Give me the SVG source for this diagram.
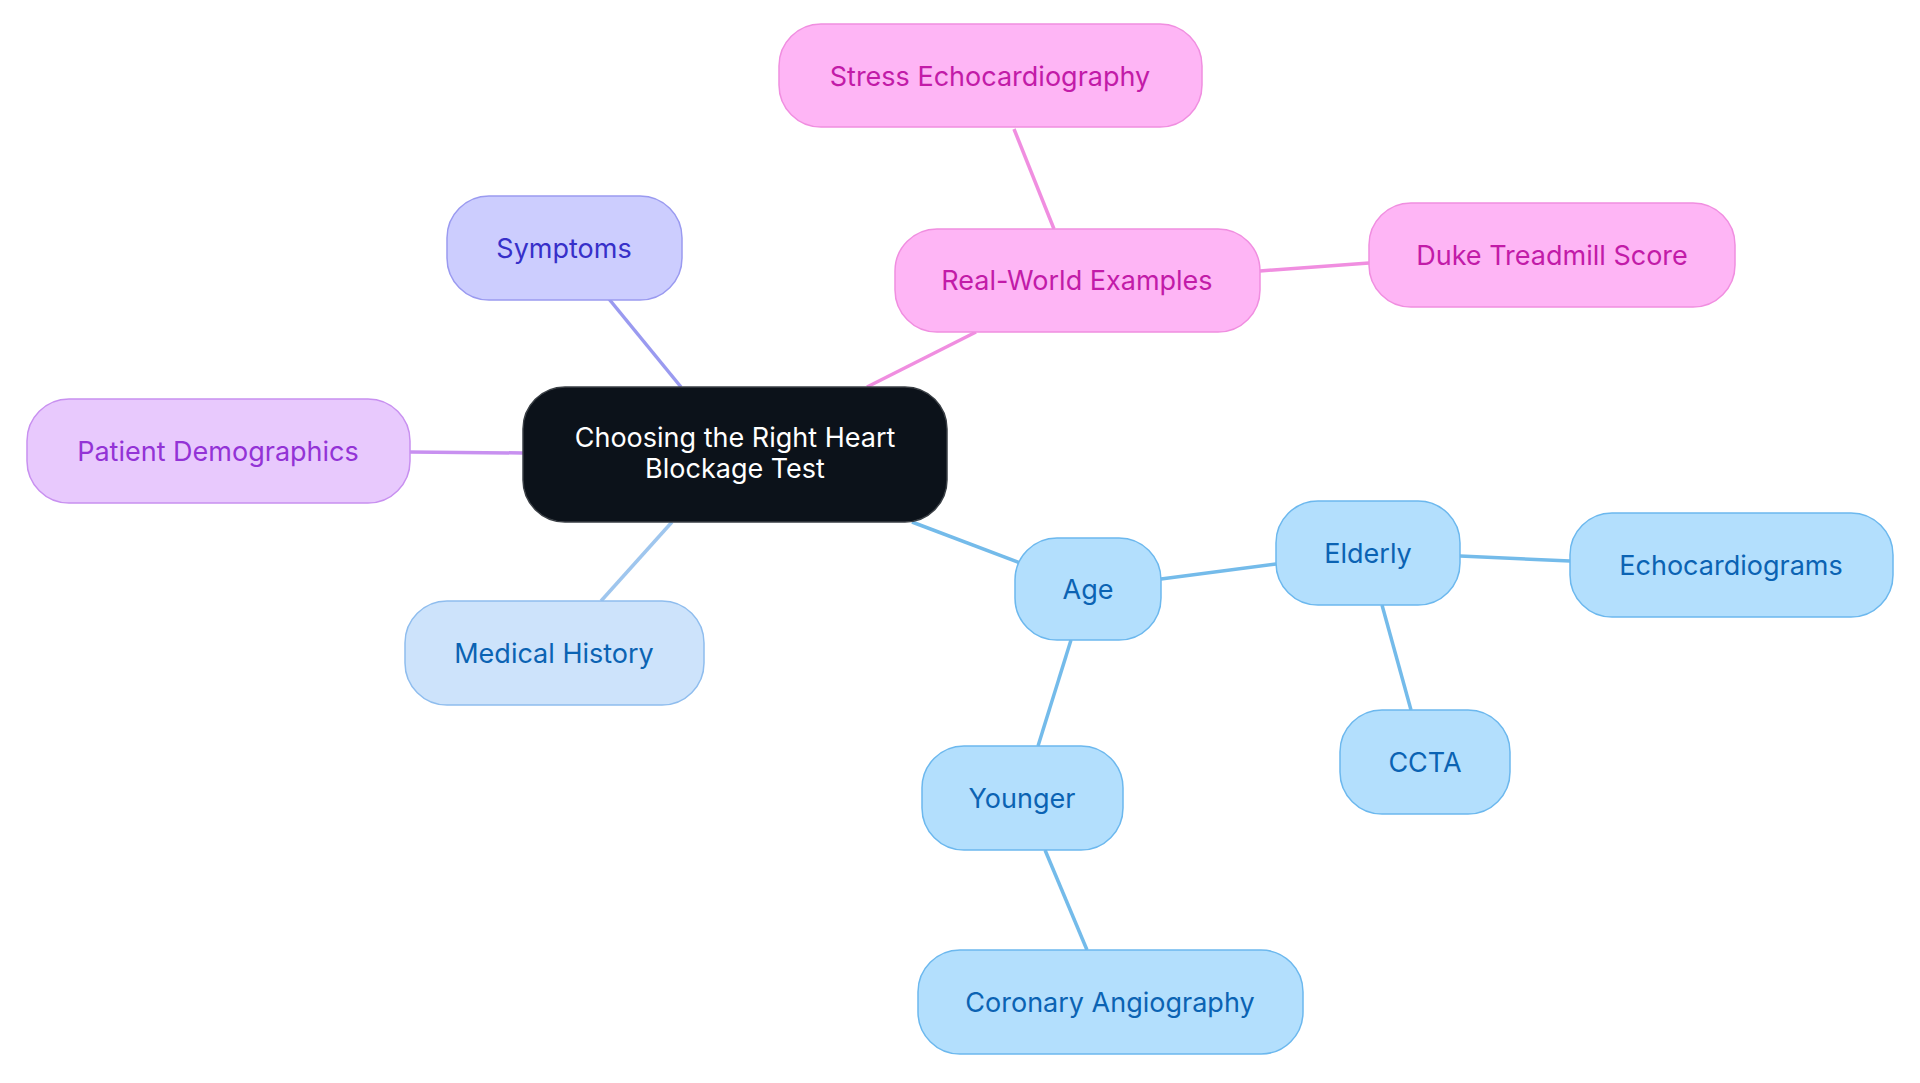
<svg xmlns="http://www.w3.org/2000/svg" width="1920" height="1083" viewBox="0 0 1920 1083">
<style>
text{font-family:Inter,"Noto Sans",sans-serif;font-size:27px;text-anchor:middle;dominant-baseline:central}
.b rect{fill:#b3dffd;stroke:#6cb8ee;stroke-width:1.5}.b text{fill:#0b63b3}
.m rect{fill:#cde3fb;stroke:#8fbdee;stroke-width:1.5}.m text{fill:#0b63b3}
.s rect{fill:#cccdfe;stroke:#9a9af0;stroke-width:1.5}.s text{fill:#3730c9}
.p rect{fill:#e8c9fd;stroke:#c890f0;stroke-width:1.5}.p text{fill:#9333d6}
.k rect{fill:#feb5f5;stroke:#f08ee0;stroke-width:1.5}.k text{fill:#c21ba8}
.c rect{fill:#0c121a;stroke:#3a3f45;stroke-width:1.5}.c text{fill:#fff}
#edges line{stroke-width:3.5;fill:none}
</style>
<rect width="1920" height="1083" fill="#fff"/>
<g id="edges">
<line x1="609" y1="299" x2="681" y2="387" stroke="#9a9af0"/>
<line x1="410" y1="452" x2="523" y2="453" stroke="#c890f0"/>
<line x1="601" y1="601" x2="672" y2="522" stroke="#9fc6ee"/>
<line x1="867" y1="387" x2="976" y2="332" stroke="#f08ee0"/>
<line x1="1014" y1="129" x2="1054" y2="229" stroke="#f08ee0"/>
<line x1="1260" y1="271" x2="1369" y2="263" stroke="#f08ee0"/>
<line x1="912" y1="522" x2="1020" y2="563" stroke="#74bbea"/>
<line x1="1161" y1="579" x2="1276" y2="564" stroke="#74bbea"/>
<line x1="1460" y1="556" x2="1570" y2="561" stroke="#74bbea"/>
<line x1="1382" y1="605" x2="1411" y2="710" stroke="#74bbea"/>
<line x1="1071" y1="640" x2="1038" y2="746" stroke="#74bbea"/>
<line x1="1045" y1="850" x2="1087" y2="950" stroke="#74bbea"/>
</g>
<g id="center" class="c"><rect x="523" y="387" width="424" height="135" rx="42"/><text x="735" y="437">Choosing the Right Heart</text><text x="735" y="468">Blockage Test</text></g>
<g id="symptoms" class="s"><rect x="447" y="196" width="235" height="104" rx="42"/><text x="564" y="248">Symptoms</text></g>
<g id="patient" class="p"><rect x="27" y="399" width="383" height="104" rx="42"/><text x="218" y="451">Patient Demographics</text></g>
<g id="medical" class="m"><rect x="405" y="601" width="299" height="104" rx="42"/><text x="554" y="653">Medical History</text></g>
<g id="realworld" class="k"><rect x="895" y="229" width="365" height="103" rx="42"/><text x="1077" y="280">Real-World Examples</text></g>
<g id="stress" class="k"><rect x="779" y="24" width="423" height="103" rx="42"/><text x="990" y="76">Stress Echocardiography</text></g>
<g id="duke" class="k"><rect x="1369" y="203" width="366" height="104" rx="42"/><text x="1552" y="255">Duke Treadmill Score</text></g>
<g id="age" class="b"><rect x="1015" y="538" width="146" height="102" rx="42"/><text x="1088" y="589">Age</text></g>
<g id="elderly" class="b"><rect x="1276" y="501" width="184" height="104" rx="42"/><text x="1368" y="553">Elderly</text></g>
<g id="echo" class="b"><rect x="1570" y="513" width="323" height="104" rx="42"/><text x="1731" y="565">Echocardiograms</text></g>
<g id="ccta" class="b"><rect x="1340" y="710" width="170" height="104" rx="42"/><text x="1425" y="762">CCTA</text></g>
<g id="younger" class="b"><rect x="922" y="746" width="201" height="104" rx="42"/><text x="1022" y="798">Younger</text></g>
<g id="coronary" class="b"><rect x="918" y="950" width="385" height="104" rx="42"/><text x="1110" y="1002">Coronary Angiography</text></g>
</svg>
